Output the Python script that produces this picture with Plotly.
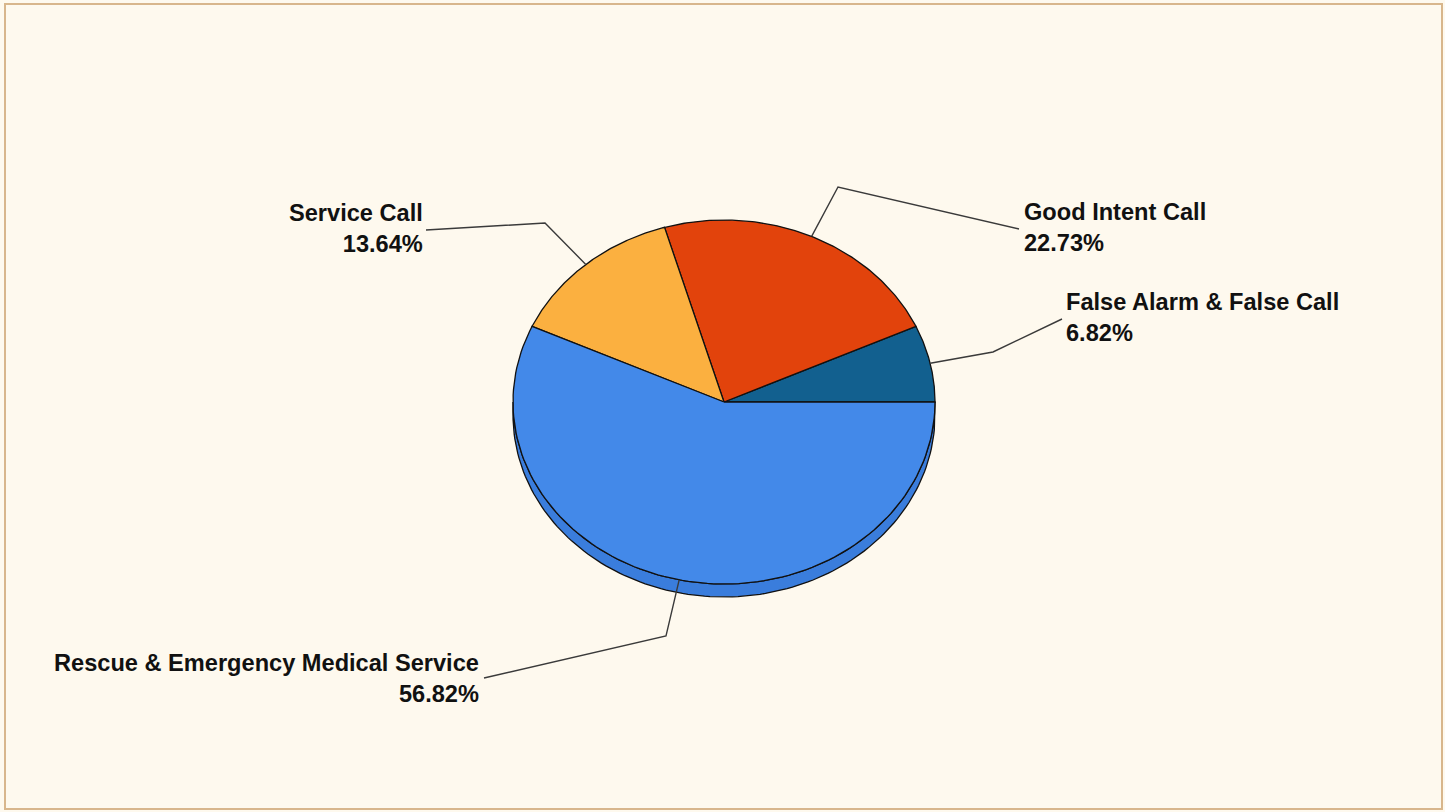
import numpy as np
import plotly.graph_objects as go

# Incident type breakdown
categories = ["False Alarm & False Call", "Good Intent Call", "Service Call",
              "Rescue & Emergency Medical Service"]
percents = [6.82, 22.73, 13.64, 56.82]
colors = ["#12608f", "#e2430c", "#fbb040", "#4389e9"]
side_colors = ["#0d4f78", "#bf3508", "#d8922c", "#3a7ddc"]

# Tilted pie geometry (pixel space of the page)
CX, CY = 724, 402
RX, RY = 211, 182
DEPTH = 13

# Leader elbows and label anchors, one per category
elbows = [(993, 352), (838, 187), (545, 223), (666, 636)]
line_ends = [(1062, 319), (1019, 229), (426, 230), (484, 678)]
label_pos = [(1064, 317), (1022, 227), (425, 228), (481, 678)]
label_side = ["left", "left", "right", "right"]

W, H = 1445, 812
BG = "#fef9ee"


def ellipse_pts(a0, a1, n=120):
    t = np.linspace(a0, a1, n)
    return CX + RX * np.cos(t), CY - RY * np.sin(t)


fig = go.Figure()

fracs = np.array(percents) / sum(percents)
bounds = np.concatenate([[0], np.cumsum(fracs)]) * 2 * np.pi

# Side wall: only the front half (angles pi..2pi) is visible
for i in range(len(categories)):
    a0, a1 = max(bounds[i], np.pi), min(bounds[i + 1], 2 * np.pi)
    if a1 <= a0:
        continue
    xs, ys = ellipse_pts(a0, a1)
    px = np.concatenate([xs, xs[::-1], xs[:1]])
    py = np.concatenate([ys, ys[::-1] + DEPTH, ys[:1]])
    fig.add_trace(go.Scatter(x=px, y=py, mode="lines", fill="toself",
                             fillcolor=side_colors[i],
                             line=dict(color="#111111", width=1.3),
                             hoverinfo="skip", showlegend=False))

# Top face wedges
for i in range(len(categories)):
    xs, ys = ellipse_pts(bounds[i], bounds[i + 1])
    px = np.concatenate([[CX], xs, [CX]])
    py = np.concatenate([[CY], ys, [CY]])
    fig.add_trace(go.Scatter(x=px, y=py, mode="lines", fill="toself",
                             fillcolor=colors[i],
                             line=dict(color="#111111", width=1.3),
                             hoverinfo="skip", showlegend=False))

# Leader lines from wedge mid-angle to labels
for i in range(len(categories)):
    mid = (bounds[i] + bounds[i + 1]) / 2
    sx, sy = CX + RX * np.cos(mid), CY - RY * np.sin(mid)
    fig.add_trace(go.Scatter(
        x=[sx, elbows[i][0], line_ends[i][0]],
        y=[sy, elbows[i][1], line_ends[i][1]],
        mode="lines", line=dict(color="#3a3a3a", width=1.4),
        hoverinfo="skip", showlegend=False))

    fig.add_annotation(
        x=label_pos[i][0], y=label_pos[i][1], xref="x", yref="y",
        text=f"{categories[i]}<br>{percents[i]:.2f}%",
        showarrow=False, xanchor=label_side[i], yanchor="middle",
        align=label_side[i],
        font=dict(family="Liberation Sans, Arial, sans-serif", size=23.6,
                  color="#111111", weight="bold"))

fig.add_shape(type="rect", xref="x", yref="y", x0=5, y0=4, x1=1442, y1=809,
              line=dict(color="#d8b68c", width=2), layer="below")

fig.update_layout(
    width=W, height=H,
    margin=dict(l=0, r=0, t=0, b=0),
    paper_bgcolor=BG, plot_bgcolor=BG,
    xaxis=dict(range=[0, W], visible=False, fixedrange=True),
    yaxis=dict(range=[H, 0], visible=False, fixedrange=True),
    showlegend=False,
)

fig.write_html("out.html", config={"displayModeBar": False})
